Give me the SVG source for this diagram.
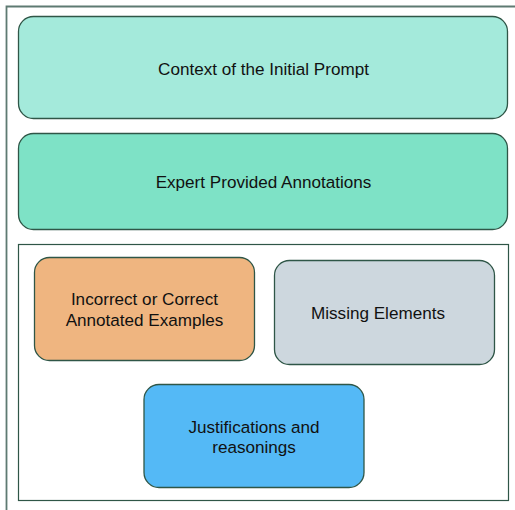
<svg xmlns="http://www.w3.org/2000/svg" width="515" height="510" viewBox="0 0 515 510">
  <style>
    .box { stroke: #2f5647; stroke-width: 1.3; }
    .lbl { font-family: "Liberation Sans", Arial, sans-serif; font-size: 17.1px; fill: #111; text-anchor: middle; dominant-baseline: central; }
  </style>
  <rect width="515" height="510" fill="#ffffff"/>
  <!-- outer frame -->
  <path d="M6.5 515 V6.5 H520" fill="none" stroke="#5e7a72" stroke-width="1.8"/>
  <g id="context">
    <rect class="box" x="18.5" y="16.5" width="489" height="102" rx="15" fill="#a4eadb"/>
    <text class="lbl" x="263.5" y="69">Context of the Initial Prompt</text>
  </g>
  <g id="expert">
    <rect class="box" x="18.5" y="133.5" width="489" height="96" rx="15" fill="#7ee2c6"/>
    <text class="lbl" x="263.5" y="182">Expert Provided Annotations</text>
  </g>
  <g id="group">
    <rect x="18.5" y="244.5" width="490" height="256" fill="none" stroke="#2f5647" stroke-width="1.2"/>
  </g>
  <g id="examples">
    <rect class="box" x="34.5" y="257.5" width="220" height="103" rx="15" fill="#efb580"/>
    <text class="lbl" x="144.5" y="299">Incorrect or Correct</text>
    <text class="lbl" x="144.5" y="320">Annotated Examples</text>
  </g>
  <g id="missing">
    <rect class="box" x="274.5" y="260.5" width="220" height="104" rx="15" fill="#cdd7de"/>
    <text class="lbl" x="378" y="313">Missing Elements</text>
  </g>
  <g id="justifications">
    <rect class="box" x="144" y="384.5" width="220" height="103" rx="15" fill="#54b9f6"/>
    <text class="lbl" x="254" y="427">Justifications and</text>
    <text class="lbl" x="254" y="447">reasonings</text>
  </g>
  <g id="connectors"></g>
</svg>
